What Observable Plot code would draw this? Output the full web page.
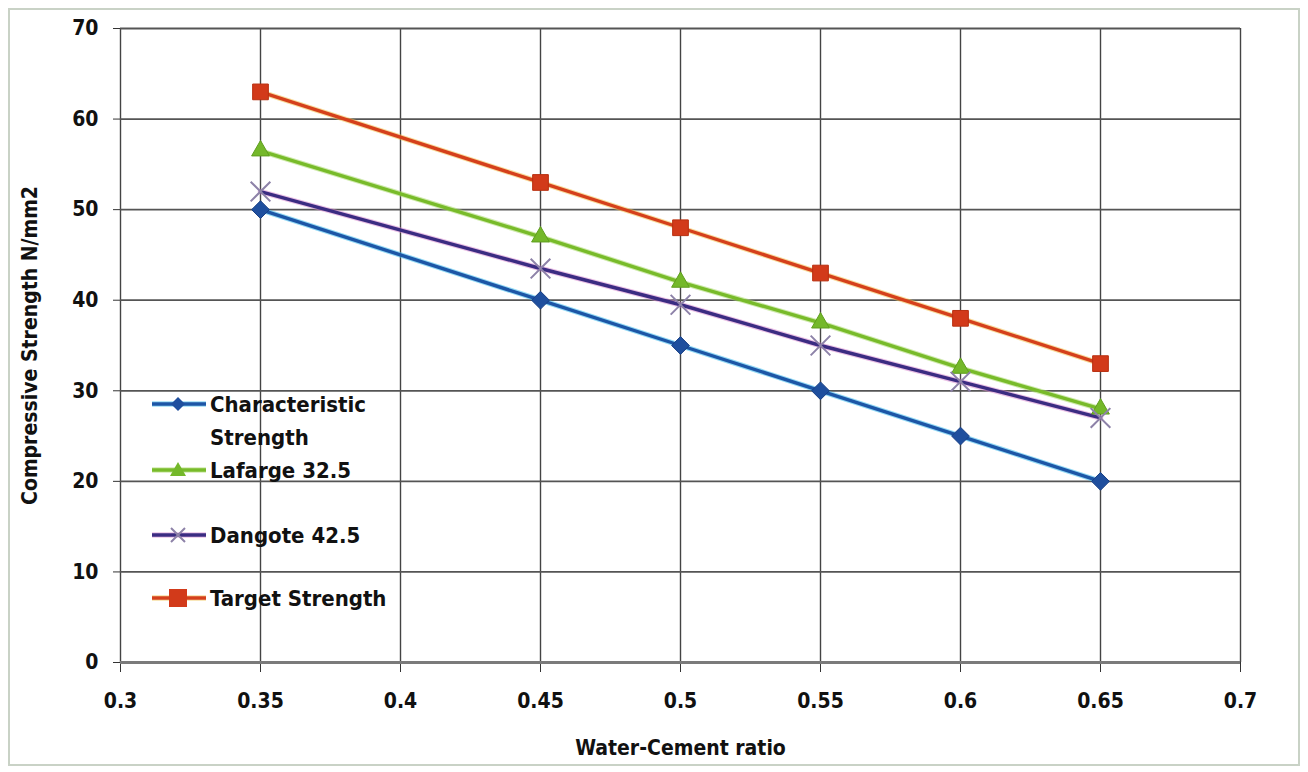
<!DOCTYPE html>
<html>
<head>
<meta charset="utf-8">
<script src="https://cdn.jsdelivr.net/npm/d3@7"></script>
<script src="https://cdn.jsdelivr.net/npm/@observablehq/plot@0.6"></script>
<style>
  html, body { margin: 0; padding: 0; background: #fff; }
  #wrap { position: relative; width: 1308px; height: 772px; overflow: hidden; background: #fff;
    font-family: "Liberation Sans Narrow", "DejaVu Sans Condensed", "Roboto", sans-serif; }
  #frame { position: absolute; left: 8px; top: 8px; width: 1288px; height: 754px; border: 2px solid #c9d2c6; pointer-events: none; }
  #legend { position: absolute; left: 150px; top: 388px; font-weight: bold; font-size: 22px; color: #111; }
  .item { position: absolute; left: 0; display: flex; align-items: flex-start; white-space: nowrap; line-height: 33px; }
  .item svg { flex: none; margin-top: 6px; }
</style>
</head>
<body>
<div id="wrap">
  <div id="chart"></div>
  <div id="frame"></div>
  <div id="legend"></div>
</div>
<script>
const ratios = [0.35, 0.45, 0.5, 0.55, 0.6, 0.65];
const characteristic = [50, 40, 35, 30, 25, 20];
const lafarge = [56.5, 47, 42, 37.5, 32.5, 28];
const dangote = [52, 43.5, 39.5, 35, 31, 27];
const target = [63, 53, 48, 43, 38, 33];
const seriesNames = ["Characteristic Strength", "Lafarge 32.5", "Dangote 42.5", "Target Strength"];
const xTicks = [0.3, 0.35, 0.4, 0.45, 0.5, 0.55, 0.6, 0.65, 0.7];
const yTicks = [0, 10, 20, 30, 40, 50, 60, 70];

const seriesValues = [characteristic, lafarge, dangote, target];
const colors = ["#1d56a6", "#78bb2a", "#3b2c82", "#d5401c"];
const glow = ["#39b9ec", "#a8d86a", "#d98ad0", "#f2c04a"];
const rows = [];
seriesNames.forEach((name, i) => ratios.forEach((r, j) => rows.push({series: name, idx: i, x: r, y: seriesValues[i][j]})));
const bySeries = i => rows.filter(d => d.idx === i);

const font = '"Liberation Sans Narrow", "DejaVu Sans Condensed", "Roboto", sans-serif';

const marks = [
  Plot.gridX(xTicks, {stroke: "#444", strokeOpacity: 1, strokeWidth: 1.4}),
  Plot.gridY(yTicks.slice(1), {stroke: "#555", strokeOpacity: 1, strokeWidth: 1.8}),
  Plot.axisX({ticks: xTicks, tickSize: 10, tickPadding: 21, tickFormat: d => String(+d.toFixed(2)),
    label: "Water-Cement ratio", labelAnchor: "center", labelArrow: "none", labelOffset: 92,
    fontSize: 21, fontWeight: "bold", fill: "#111", stroke: "#333"}),
  Plot.axisY({ticks: yTicks, tickSize: 7, tickPadding: 15, tickFormat: d => String(d),
    label: "Compressive Strength N/mm2", labelAnchor: "center", labelArrow: "none", labelOffset: 98,
    fontSize: 21, fontWeight: "bold", fill: "#111", stroke: "#333"}),
  Plot.ruleY([0], {stroke: "#7a7a7a", strokeWidth: 3}),
];
[0, 2, 1, 3].forEach(i => {
  marks.push(Plot.line(bySeries(i), {x: "x", y: "y", stroke: glow[i], strokeWidth: 5.5, strokeOpacity: 0.55}));
  marks.push(Plot.line(bySeries(i), {x: "x", y: "y", stroke: colors[i], strokeWidth: 3.4}));
});
marks.push(Plot.dot(bySeries(0), {x: "x", y: "y", symbol: "diamond2", r: 8, fill: "#1f4f9e", stroke: "#173f85", strokeWidth: 1}));
marks.push(Plot.dot(bySeries(1), {x: "x", y: "y", symbol: "triangle2", r: 8.5, fill: "#74b82a", stroke: "#5f9e1e", strokeWidth: 1}));
marks.push(Plot.dot(bySeries(2), {x: "x", y: "y", symbol: "times", r: 9, stroke: "#8d82a8", strokeWidth: 2}));
marks.push(Plot.dot(bySeries(3), {x: "x", y: "y", symbol: "square2", r: 10, fill: "#d23a1a", stroke: "#b83010", strokeWidth: 1}));

const chart = Plot.plot({
  width: 1308,
  height: 772,
  marginLeft: 120,
  marginRight: 68,
  marginTop: 28,
  marginBottom: 110,
  style: {fontFamily: font, background: "transparent", color: "#111"},
  x: {domain: [0.3, 0.7]},
  y: {domain: [0, 70]},
  marks
});
chart.querySelectorAll('g[aria-label="x-axis label"] text, g[aria-label="y-axis label"] text').forEach(t => {
  t.setAttribute("font-size", "21");
  t.setAttribute("font-weight", "bold");
});
document.getElementById("chart").appendChild(chart);

const legend = document.getElementById("legend");
const legendTops = [0, 66, 131, 194];
const legendLabels = ["Characteristic<br>Strength", "Lafarge 32.5", "Dangote 42.5", "Target Strength"];
function symbolSvg(i) {
  const c = colors[i];
  let m = "";
  if (i === 0) m = `<polygon points="28,3 35,10 28,17 21,10" fill="#1f4f9e"/>`;
  if (i === 1) m = `<polygon points="28,2 36,16 20,16" fill="#74b82a"/>`;
  if (i === 2) m = `<path d="M21,3L35,17M35,3L21,17" stroke="#8d82a8" stroke-width="2"/>`;
  if (i === 3) m = `<rect x="19" y="1" width="18" height="18" fill="#d23a1a"/>`;
  return `<svg width="60" height="20" viewBox="0 0 60 20"><line x1="2" y1="10" x2="56" y2="10" stroke="${glow[i]}" stroke-opacity="0.5" stroke-width="5.5"/><line x1="2" y1="10" x2="56" y2="10" stroke="${c}" stroke-width="3.4"/>${m}</svg>`;
}
legendLabels.forEach((lab, i) => {
  const d = document.createElement("div");
  d.className = "item";
  d.style.top = legendTops[i] + "px";
  d.innerHTML = symbolSvg(i) + `<span>${lab}</span>`;
  legend.appendChild(d);
});
</script>
</body>
</html>
